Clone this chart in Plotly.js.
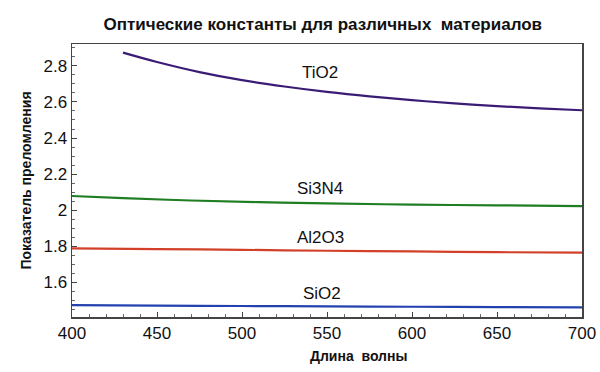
<!DOCTYPE html>
<html>
<head>
<meta charset="utf-8">
<script src="https://cdn.plot.ly/plotly-3.0.1.min.js"></script>
<style>html,body{margin:0;padding:0;background:#fff;}#chart{width:600px;height:372px;}</style>
</head>
<body>
<div id="chart"></div>
<script>
// Data
const tio2X = [430, 450, 475, 500, 525, 550, 575, 600, 625, 650, 675, 700];
const tio2Y = [2.874, 2.822, 2.766, 2.721, 2.686, 2.656, 2.631, 2.610, 2.592, 2.577, 2.565, 2.554];
const si3n4X = [400, 430, 470, 510, 550, 600, 650, 700];
const si3n4Y = [2.078, 2.066, 2.053, 2.044, 2.037, 2.030, 2.026, 2.022];
const al2o3X = [400, 450, 500, 550, 600, 650, 700];
const al2o3Y = [1.787, 1.783, 1.779, 1.774, 1.770, 1.766, 1.763];
const sio2X = [400, 450, 500, 550, 600, 650, 700];
const sio2Y = [1.472, 1.469, 1.467, 1.465, 1.463, 1.461, 1.459];

const labelNames = ["TiO2", "Si3N4", "Al2O3", "SiO2"];
const labelX = [546, 546, 546, 547];
const labelY = [2.761, 2.122, 1.85, 1.539];

const titleText = "Оптические константы для различных  материалов";
const xTitle = "Длина  волны";
const yTitle = "Показатель преломления";

const condensed = '"Liberation Sans Narrow", "Arial Narrow", sans-serif';
const plain = '"Liberation Sans", Arial, Helvetica, sans-serif';

const traces = [
  {x: tio2X, y: tio2Y, mode: 'lines', line: {color: '#3b1c74', width: 2.2, shape: 'spline'}},
  {x: si3n4X, y: si3n4Y, mode: 'lines', line: {color: '#1f7d22', width: 2.2, shape: 'spline'}},
  {x: al2o3X, y: al2o3Y, mode: 'lines', line: {color: '#d2402a', width: 2.2, shape: 'spline'}},
  {x: sio2X, y: sio2Y, mode: 'lines', line: {color: '#2342b0', width: 2.2, shape: 'spline'}}
];

const annotations = labelNames.map((t, i) => ({
  x: labelX[i], y: labelY[i], xref: 'x', yref: 'y', text: t, showarrow: false,
  font: {family: plain, size: 17, color: '#111'}
}));
annotations.push({
  x: 0.561, y: -0.143, xref: 'paper', yref: 'paper', xanchor: 'center', yanchor: 'middle',
  text: '<b>' + xTitle + '</b>', showarrow: false,
  font: {family: condensed, size: 14, color: '#111'}
});

const layout = {
  width: 600, height: 372,
  margin: {l: 72, r: 18, t: 44, b: 55},
  paper_bgcolor: '#fff', plot_bgcolor: '#fff',
  showlegend: false,
  title: {text: '<b>' + titleText + '</b>', x: 0.538, xanchor: 'center', y: 0.935, yanchor: 'middle',
    font: {family: condensed, size: 17, color: '#111'}},
  xaxis: {
    range: [400, 700], dtick: 50, tick0: 400, ticks: 'inside', ticklen: 5, tickwidth: 1, tickcolor: '#444',
    showgrid: false, zeroline: false, showline: true, linecolor: '#444', linewidth: 1.5, mirror: true,
    minor: {dtick: 10, ticks: 'inside', ticklen: 3, tickcolor: '#666', showgrid: false},
    tickfont: {family: plain, size: 17, color: '#111'}
  },
  yaxis: {
    range: [1.406, 2.922], dtick: 0.2, tick0: 1.6, ticks: 'inside', ticklen: 5, tickwidth: 1, tickcolor: '#444',
    showgrid: false, zeroline: false, showline: true, linecolor: '#444', linewidth: 1.5, mirror: true,
    minor: {dtick: 0.05, ticks: 'inside', ticklen: 3, tickcolor: '#666', showgrid: false},
    tickfont: {family: plain, size: 17, color: '#111'},
    title: {text: '<b>' + yTitle + '</b>', standoff: 8, font: {family: condensed, size: 14, color: '#111'}}
  },
  annotations: annotations
};

Plotly.newPlot('chart', traces, layout, {displayModeBar: false, staticPlot: true});
</script>
</body>
</html>
